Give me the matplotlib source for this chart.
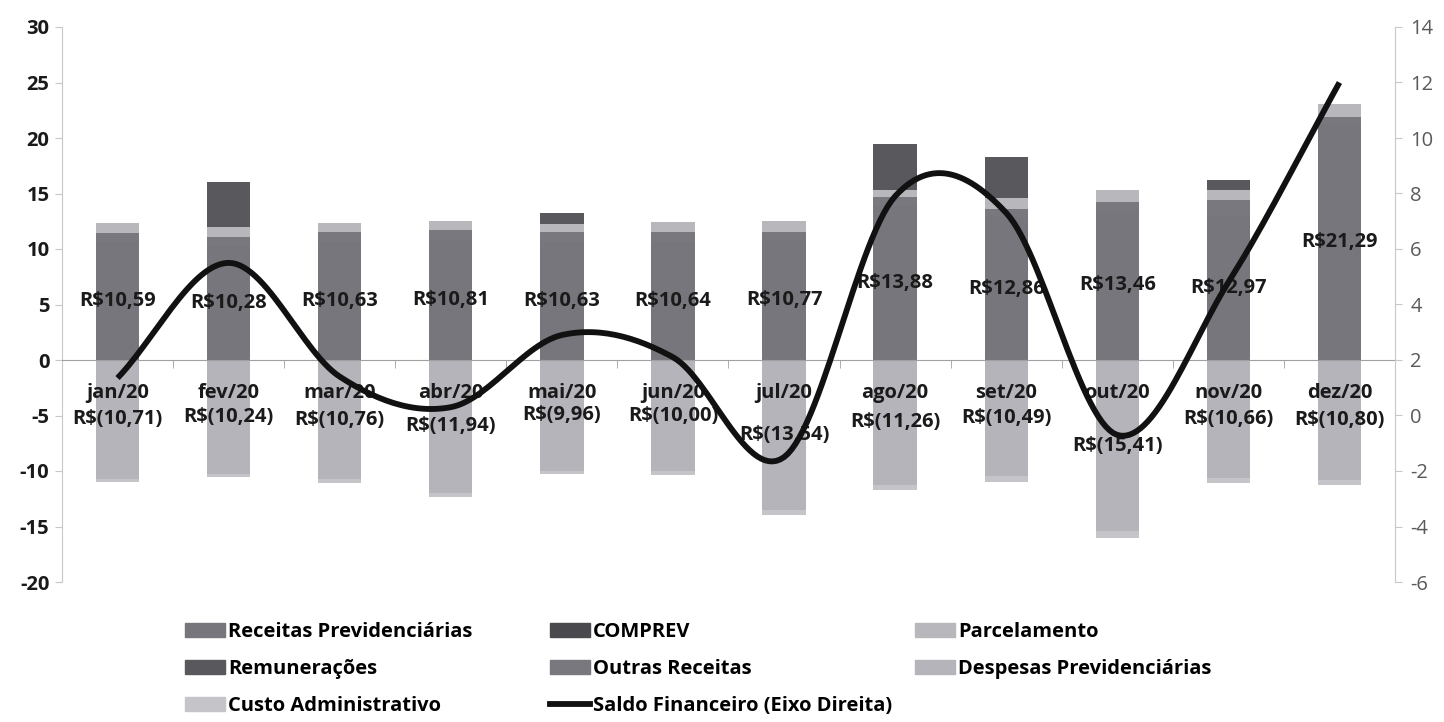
import numpy as np
import matplotlib.pyplot as plt
from matplotlib.patches import Patch
from matplotlib.lines import Line2D

plt.rcParams['font.family'] = ['Open Sans', 'DejaVu Sans']
plt.rcParams['axes.unicode_minus'] = False

meses = ['jan/20', 'fev/20', 'mar/20', 'abr/20', 'mai/20', 'jun/20',
         'jul/20', 'ago/20', 'set/20', 'out/20', 'nov/20', 'dez/20']

# receitas (R$ milhões)
receitas_prev = [10.59, 10.28, 10.63, 10.81, 10.63, 10.64, 10.77, 13.88, 12.86, 13.46, 12.97, 21.29]
outras_receitas = [0.81, 0.82, 0.87, 0.89, 0.87, 0.86, 0.78, 0.82, 0.74, 0.74, 1.43, 0.61]
parcelamento = [0.90, 0.90, 0.80, 0.80, 0.75, 0.90, 1.00, 0.60, 1.00, 1.10, 0.90, 1.20]
remuneracoes = [0.0, 4.00, 0.0, 0.0, 0.95, 0.0, 0.0, 4.15, 3.65, 0.0, 0.90, 0.0]
comprev = [0.0] * 12

# despesas
despesas_prev = [10.71, 10.24, 10.76, 11.94, 9.96, 10.00, 13.54, 11.26, 10.49, 15.41, 10.66, 10.80]
custo_adm = [0.29, 0.30, 0.34, 0.36, 0.34, 0.40, 0.46, 0.44, 0.50, 0.60, 0.45, 0.50]

# saldo financeiro (eixo direito)
saldo = [1.35, 5.5, 1.4, 0.3, 2.9, 2.1, -1.5, 7.9, 7.3, -0.7, 4.8, 12.0]

cores = {
    'Receitas Previdenciárias': '#76767c',
    'COMPREV': '#4a4a4e',
    'Parcelamento': '#b8b8bc',
    'Remunerações': '#58585d',
    'Outras Receitas': '#78787e',
    'Despesas Previdenciárias': '#b4b4ba',
    'Custo Administrativo': '#c4c4c9',
}

x = np.arange(len(meses))
w = 0.39

fig = plt.figure(figsize=(14.44, 7.22), dpi=100)
ax = fig.add_axes([62/1444, 1 - 582/722, (1395 - 62)/1444, 555/722])
ax.set_xlim(-0.5, 11.5)
ax.set_ylim(-20, 30)

pos = [('Receitas Previdenciárias', receitas_prev), ('Outras Receitas', outras_receitas),
       ('Parcelamento', parcelamento), ('Remunerações', remuneracoes),
       ('COMPREV', comprev)]
base = np.zeros(12)
for nome, vals in pos:
    v = np.array(vals)
    ax.bar(x, v, w, bottom=base, color=cores[nome], zorder=2)
    base += v

neg = [('Despesas Previdenciárias', despesas_prev), ('Custo Administrativo', custo_adm)]
base = np.zeros(12)
for nome, vals in neg:
    v = -np.array(vals)
    ax.bar(x, v, w, bottom=base, color=cores[nome], zorder=2)
    base += v

def fmt(v):
    return ('%.2f' % v).replace('.', ',')

fs = 14.5
for i in range(12):
    ax.text(x[i], receitas_prev[i] / 2, 'R$' + fmt(receitas_prev[i]), ha='center', va='center',
            fontsize=fs, fontweight='bold', color='#1a1a1a', zorder=3)
    ax.text(x[i], -despesas_prev[i] / 2, 'R$(' + fmt(despesas_prev[i]) + ')', ha='center', va='center',
            fontsize=fs, fontweight='bold', color='#1a1a1a', zorder=3)
    ax.annotate(meses[i], (x[i], 0), xytext=(0, -24), textcoords='offset points',
                ha='center', va='center', fontsize=fs, fontweight='bold', color='#1a1a1a', zorder=3)

# eixo de categorias no zero
for s in ['top', 'right']:
    ax.spines[s].set_visible(False)
ax.spines['bottom'].set_position(('data', 0))
ax.spines['bottom'].set_color('#a0a0a0')
ax.spines['left'].set_color('#c8c8c8')
ax.set_xticks([])
ax.set_xticks(np.arange(-0.5, 12, 1), minor=True)
ax.tick_params(axis='x', which='minor', length=6, direction='out', color='#a0a0a0')
ax.set_yticks(np.arange(-20, 31, 5))
ax.tick_params(axis='y', length=5, color='#c8c8c8', labelsize=fs, labelcolor='#1a1a1a', pad=4)
for t in ax.get_yticklabels():
    t.set_fontweight('bold')

ax2 = ax.twinx()
ax2.set_ylim(-6, 14)
ax2.set_yticks(np.arange(-6, 15, 2))
for s in ['top', 'left', 'bottom']:
    ax2.spines[s].set_visible(False)
ax2.spines['right'].set_color('#c8c8c8')
ax2.tick_params(axis='y', length=5, color='#c8c8c8', labelsize=fs, labelcolor='#5a5a5a', pad=6)

# linha suavizada (Catmull-Rom como no Excel)
s = np.array(saldo)
n = len(s)
xs, ys = [], []
for i in range(n - 1):
    m0 = (s[i + 1] - s[i - 1]) / 2 if i > 0 else (s[1] - s[0])
    m1 = (s[i + 2] - s[i]) / 2 if i < n - 2 else (s[-1] - s[-2])
    t = np.linspace(0, 1, 30)
    p0, p3 = s[i], s[i + 1]
    p1, p2 = p0 + m0 / 3, p3 - m1 / 3
    yy = (1 - t)**3 * p0 + 3 * (1 - t)**2 * t * p1 + 3 * (1 - t) * t**2 * p2 + t**3 * p3
    xs.extend(x[i] + t)
    ys.extend(yy)
ax2.plot(xs, ys, color='#111111', lw=4.2, solid_capstyle='butt', zorder=4)

# legenda em 3 colunas
itens = [Patch(color=cores[k]) for k in cores]
linha = Line2D([0], [0], color='#111111', lw=4.2)
nomes = list(cores.keys())
colunas = [
    ([itens[0], itens[3], itens[6]], [nomes[0], nomes[3], nomes[6]], 185),
    ([itens[1], itens[4], linha], [nomes[1], nomes[4], 'Saldo Financeiro (Eixo Direita)'], 550),
    ([itens[2], itens[5]], [nomes[2], nomes[5]], 915),
]
for hs, ls, xp in colunas:
    fig.legend(hs, ls, loc='upper left', bbox_to_anchor=(xp / 1444, 1 - 622 / 722),
               frameon=False, prop={'weight': 'bold', 'size': 14.5},
               handlelength=2.0, handleheight=0.7, handletextpad=0.15,
               labelspacing=0.85, borderpad=0, borderaxespad=0)

fig.savefig('out.png', dpi=100)
